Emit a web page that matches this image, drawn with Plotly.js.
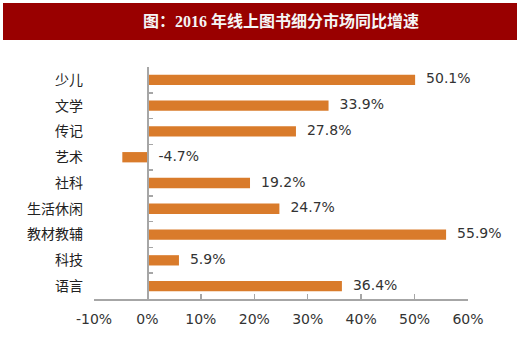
<!DOCTYPE html>
<html>
<head>
<meta charset="utf-8">
<script src="https://cdn.plot.ly/plotly-3.0.1.min.js"></script>
<style>html,body{margin:0;padding:0;background:#fff;}#chart{width:520px;height:341px;}</style>
</head>
<body>
<div id="chart"></div>
<script>
const titleText = "图：2016 年线上图书细分市场同比增速";
const categories = ["少儿", "文学", "传记", "艺术", "社科", "生活休闲", "教材教辅", "科技", "语言"];
const growth = [50.1, 33.9, 27.8, -4.7, 19.2, 24.7, 55.9, 5.9, 36.4];
const growthLabels = ["50.1%", "33.9%", "27.8%", "-4.7%", "19.2%", "24.7%", "55.9%", "5.9%", "36.4%"];
const xTickVals = [-10, 0, 10, 20, 30, 40, 50, 60];
const xTickText = ["-10%", "0%", "10%", "20%", "30%", "40%", "50%", "60%"];

const labelX = growth.map(v => Math.max(v, 0));

const bars = {
  type: "bar",
  orientation: "h",
  x: growth,
  y: categories,
  width: 0.4,
  marker: {color: "#D97B2B"},
  hoverinfo: "none",
  xaxis: "x",
  yaxis: "y"
};
const labels = {
  type: "scatter",
  mode: "markers+text",
  x: labelX,
  y: categories,
  text: growthLabels,
  textposition: "middle right",
  marker: {size: 16, opacity: 0, color: "#ffffff"},
  textfont: {family: "DejaVu Sans, Verdana, sans-serif", size: 14, color: "#333333"},
  cliponaxis: false,
  hoverinfo: "none",
  xaxis: "x",
  yaxis: "y2"
};

const L = 94, R = 52, T = 67, B = 42, W = 520, H = 341;
const pw = W - L - R, ph = H - T - B;
const zeroPos = (0 - (-10)) / 70;

const layout = {
  width: W, height: H,
  margin: {l: L, r: R, t: T, b: B, pad: 0},
  paper_bgcolor: "#ffffff",
  plot_bgcolor: "#ffffff",
  showlegend: false,
  title: {
    text: "<b>" + titleText + "</b>",
    font: {family: "Liberation Serif, Noto Sans CJK SC, serif", size: 16, color: "#F5F5F5"},
    x: 0.5, xref: "paper", xanchor: "center",
    y: 1 - 21 / H, yref: "container", yanchor: "middle"
  },
  shapes: [{
    type: "rect", xref: "paper", yref: "paper", layer: "below",
    x0: (3 - L) / pw, x1: (517 - L) / pw,
    y0: (H - B - 40) / ph, y1: (H - B - 3) / ph,
    fillcolor: "#990000", line: {width: 0}
  }],
  xaxis: {
    range: [-10, 60],
    tickvals: xTickVals,
    ticktext: xTickText,
    ticks: "inside", ticklen: 5, tickwidth: 1.5, tickcolor: "#A6A6A6",
    showline: true, linecolor: "#A6A6A6", linewidth: 1.5,
    showgrid: false, zeroline: false,
    ticklabelstandoff: 7,
    tickfont: {family: "DejaVu Sans, Verdana, sans-serif", size: 14, color: "#333333"},
    fixedrange: true
  },
  yaxis: {
    type: "category",
    categoryorder: "array", categoryarray: categories,
    range: [8.5, -0.5],
    ticks: "", showline: false, showgrid: false, zeroline: false,
    ticklabelstandoff: 10,
    tickfont: {family: "Noto Sans CJK SC, sans-serif", size: 14, color: "#222222"},
    fixedrange: true
  },
  yaxis2: {
    type: "category",
    categoryorder: "array", categoryarray: categories,
    range: [8.5, -0.5],
    overlaying: "y", anchor: "free", position: zeroPos, side: "left",
    showticklabels: false,
    ticks: "inside", tickson: "boundaries", ticklen: 4, tickwidth: 1.5, tickcolor: "#A6A6A6",
    showline: true, linecolor: "#A6A6A6", linewidth: 1.5,
    showgrid: false, zeroline: false,
    fixedrange: true
  }
};

Plotly.newPlot("chart", [bars, labels], layout, {displayModeBar: false, staticPlot: true});
</script>
</body>
</html>
